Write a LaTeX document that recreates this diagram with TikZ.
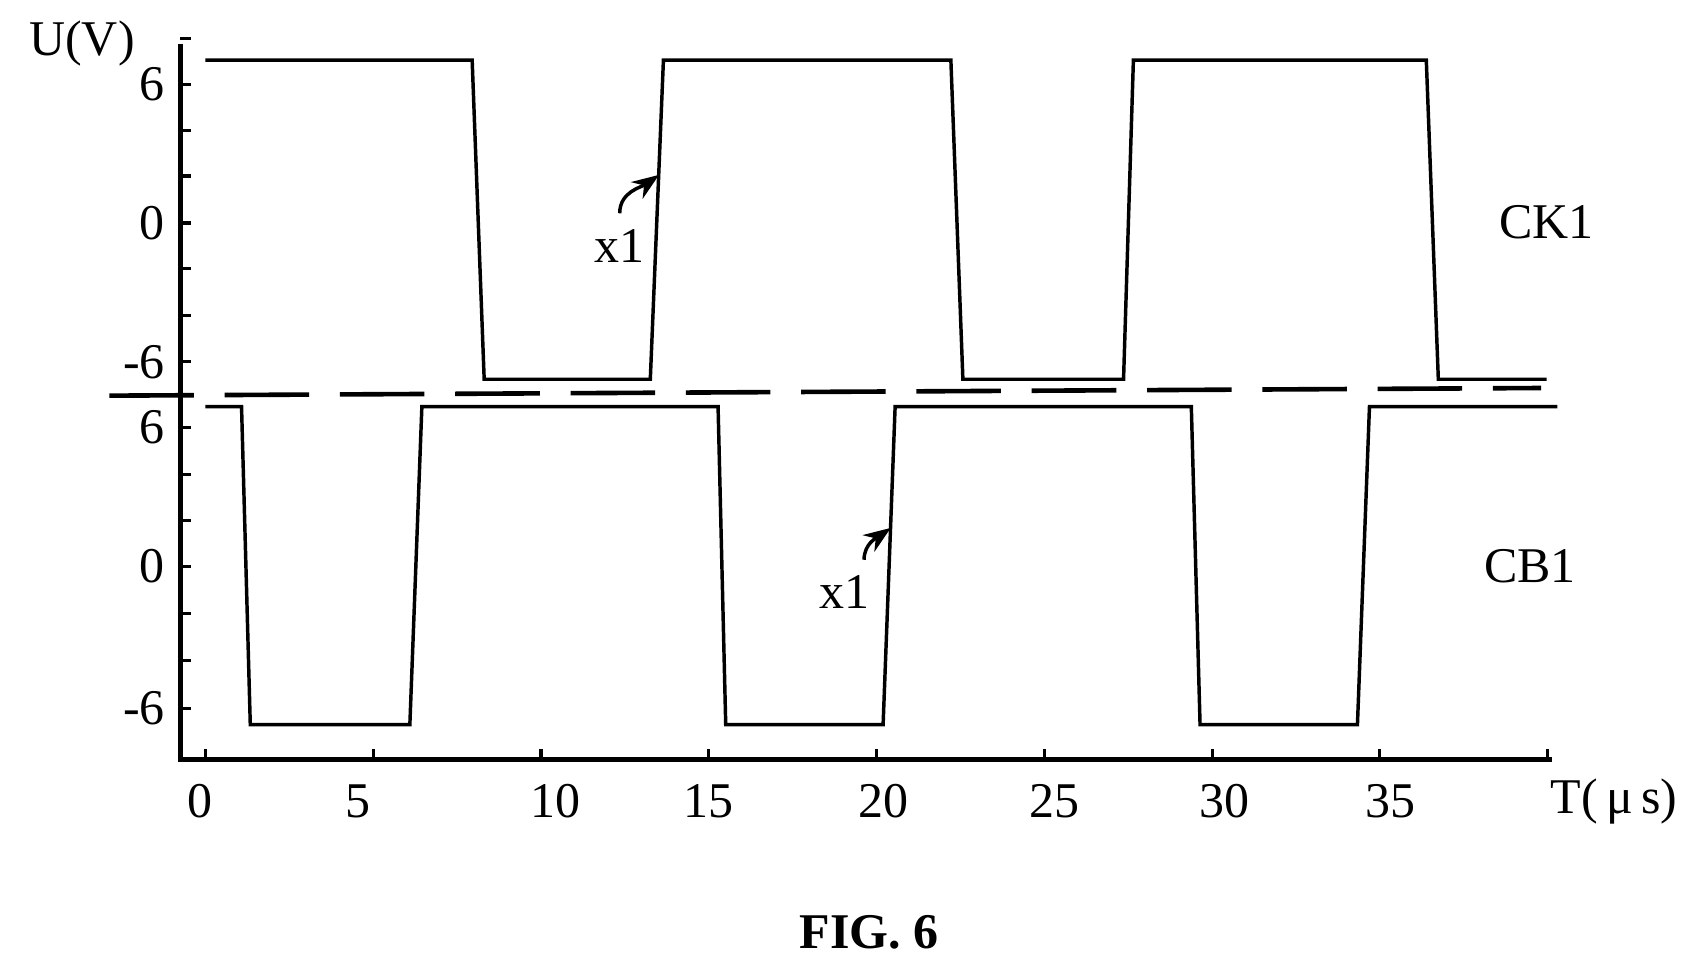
\documentclass[tikz,border=0pt]{standalone}
\usepackage{fontspec}
\setmainfont{Liberation Serif}
\usetikzlibrary{arrows.meta}

\begin{document}
\begin{tikzpicture}[
    x=0.01cm, y=-0.01cm,
    font=\fontsize{13}{15}\selectfont,
    >=Stealth,
    wave/.style={line width=0.9pt, line join=miter},
    axis/.style={line width=1.2pt},
    tick/.style={line width=0.8pt},
    lbl/.style={inner sep=1pt}
]
    \useasboundingbox (0,0) rectangle (1560,881);
    % Axes
    \draw[axis] (165,40) -- (165,695) -- (1420,695);
    \foreach \t in {0,5,...,40}
        \draw[tick] ({188+\t*30.7},695) -- ({188+\t*30.7},685);
    \foreach \y in {35,77,119,161,204,246,289,331,391,434,476,518,561,604,648}
        \draw[tick] (165,\y) -- (175,\y);
    % Tick labels
    \foreach \v/\y in {6/77,0/204,-6/331,6/391,0/518,-6/648}
        \node[lbl, anchor=east] at (155,\y) {\v};
    \foreach \t/\x in {0/183,5/328,10/508,15/648,20/808,25/965,30/1120,35/1272}
        \node[lbl] at (\x,733) {\t};
    \node[lbl] (ulabel) at (75,40) {U(V)};
    \node[lbl] (tlabel) at (1477,733) {T(\,μ\,s)};
    % Separator
    \draw[line width=1.2pt, dash pattern=on 22pt off 8pt] (100,362) -- (1410,355);
    % CK1
    \draw[wave] (188,55) -- (432,55) -- (443,347) -- (595,347) -- (607,55) -- (870,55)
        -- (881,347) -- (1028,347) -- (1037,55) -- (1305,55) -- (1316,347) -- (1415,347);
    % CB1
    \draw[wave] (188,372) -- (221,372) -- (229,663) -- (375,663) -- (386,372) -- (657,372)
        -- (664,663) -- (808,663) -- (819,372) -- (1090,372) -- (1098,663) -- (1242,663)
        -- (1253,372) -- (1425,372);
    % Labels
    \node[lbl] (ck) at (1415,203) {CK1};
    \node[lbl] (cb) at (1400,518) {CB1};
    \node[lbl] (xa) at (567,225) {x1};
    \node[lbl] (xb) at (773,542) {x1};
    \coordinate (ea) at (603,160);
    \coordinate (eb) at (815,483);
    \draw[->, line width=0.9pt] ([yshift=3pt]xa.north) to[out=90, in=215] (ea);
    \draw[->, line width=0.9pt] ([xshift=5pt,yshift=3pt]xb.north) to[out=90, in=215] (eb);
    \node[lbl, font=\fontsize{13}{15}\selectfont\bfseries] (fig) at (795,853) {FIG. 6};
\end{tikzpicture}
\end{document}
